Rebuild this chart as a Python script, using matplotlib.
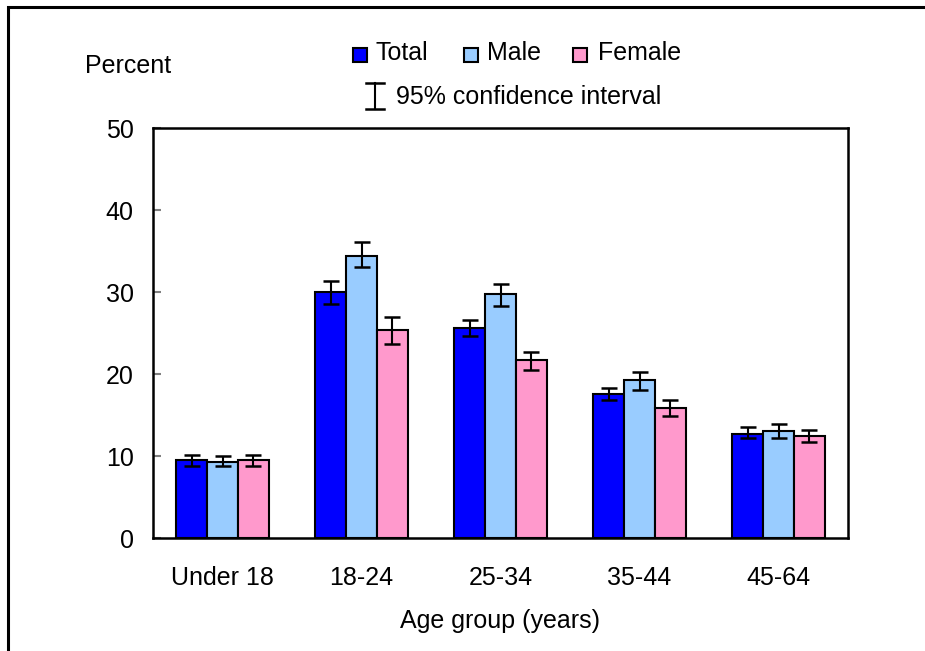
import matplotlib
matplotlib.use("Agg")
import matplotlib.pyplot as plt
from matplotlib.patches import Rectangle
from matplotlib.lines import Line2D
import numpy as np

plt.rcParams["font.family"] = ["Liberation Sans", "DejaVu Sans"]

groups = ["Under 18", "18-24", "25-34", "35-44", "45-64"]
series = ["Total", "Male", "Female"]
colors = ["#0000FF", "#99CCFF", "#FF99CC"]

total = [9.5, 30.0, 25.6, 17.6, 12.7]
total_lo = [8.8, 28.5, 24.6, 16.8, 12.2]
total_hi = [10.1, 31.3, 26.6, 18.3, 13.5]

male = [9.3, 34.4, 29.8, 19.3, 13.0]
male_lo = [8.8, 33.0, 28.3, 18.0, 12.2]
male_hi = [10.0, 36.1, 31.0, 20.3, 13.9]

female = [9.5, 25.4, 21.7, 15.9, 12.4]
female_lo = [8.8, 23.7, 20.5, 14.9, 11.7]
female_hi = [10.1, 26.9, 22.7, 16.8, 13.2]

values = [total, male, female]
lows = [total_lo, male_lo, female_lo]
highs = [total_hi, male_hi, female_hi]

W, H = 925, 651
fig = plt.figure(figsize=(W / 100, H / 100), dpi=100)
ax = fig.add_axes([153 / W, 1 - 538 / H, 695 / W, 410 / H])

x = np.arange(len(groups))
width = 0.222
for i, (vals, lo, hi, col) in enumerate(zip(values, lows, highs, colors)):
    pos = x + (i - 1) * width
    vals = np.array(vals)
    err = [vals - np.array(lo), np.array(hi) - vals]
    ax.bar(pos, vals, width, color=col, edgecolor="black", linewidth=1.5, zorder=2)
    ax.errorbar(pos, vals, yerr=err, fmt="none", ecolor="black",
                elinewidth=1.5, capsize=5.8, capthick=1.8, zorder=3)

ax.set_xlim(-0.5, len(groups) - 0.5)
ax.set_ylim(0, 50)
ax.set_yticks([0, 10, 20, 30, 40, 50])
ax.set_xticks(x)
ax.set_xticklabels(groups)
ax.tick_params(axis="y", direction="in", length=6, width=1.5, color="#808080",
               labelsize=18, pad=14)
ax.tick_params(axis="x", length=0, labelsize=18, pad=20)
for sp in ax.spines.values():
    sp.set_linewidth(1.8)
ax.set_xlabel("Age group (years)", fontsize=18, labelpad=14)

fig.text(85 / W, 1 - 66 / H, "Percent", fontsize=18, ha="left", va="center")

# legend boxes and labels
box_x = [353, 464, 573]
text_x = [376, 487, 598]
for bx, tx, name, col in zip(box_x, text_x, series, colors):
    fig.add_artist(Rectangle((bx / W, 1 - 62 / H), 14 / W, 14 / H,
                             transform=fig.transFigure, facecolor=col,
                             edgecolor="black", linewidth=1.5))
    fig.text(tx / W, 1 - 53 / H, name, fontsize=18, ha="left", va="center")

# confidence interval key
fig.add_artist(Line2D([375 / W, 375 / W], [1 - 83 / H, 1 - 109 / H], color="black", lw=1.5))
fig.add_artist(Line2D([366 / W, 384 / W], [1 - 83 / H, 1 - 83 / H], color="black", lw=1.8))
fig.add_artist(Line2D([366 / W, 384 / W], [1 - 109 / H, 1 - 109 / H], color="black", lw=1.8))
fig.text(396 / W, 1 - 97 / H, "95% confidence interval", fontsize=18, ha="left", va="center")

# outer frame
fig.add_artist(Rectangle((8 / W, -0.1), 1.1, 1 - 7 / H + 0.1, transform=fig.transFigure,
                         fill=False, edgecolor="black", linewidth=2.2))

fig.savefig("out.png", dpi=100)
